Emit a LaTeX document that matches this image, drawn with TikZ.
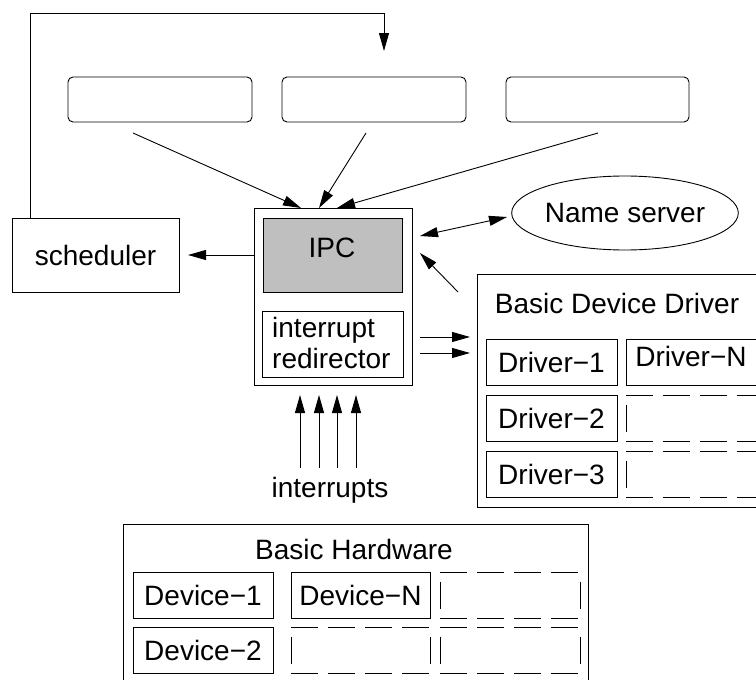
\documentclass[tikz,border=0pt]{standalone}
\usepackage{fontspec}
\setmainfont{Liberation Sans}
\usetikzlibrary{arrows.meta,shapes.geometric}

\tikzset{
  lbl/.style={font=\fontsize{28}{31}\selectfont, inner sep=0pt},
  sized/.style args={#1x#2}{minimum width=#1pt, minimum height=#2pt},
  box/.style={draw, line width=0.9pt, inner sep=0pt, outer sep=0pt, lbl},
  rbox/.style={box, rounded corners=5pt},
  ghost/.style={inner sep=0pt, outer sep=0pt},
  arr/.style={line width=0.9pt, -{Triangle[length=18pt,width=10pt]}},
  darr/.style={line width=0.9pt, {Triangle[length=18pt,width=10pt]}-{Triangle[length=18pt,width=10pt]}},
  hdash/.style={line width=0.9pt, dash pattern=on 27pt off 10pt},
  vdash/.style={line width=0.9pt, dash pattern=on 27pt off 10pt, dash phase=27.5pt},
}
% dashed outline drawn side by side, each side with its own dash pattern
\newcommand\dashedges[1]{%
  \draw[hdash] (#1.north west) -- (#1.north east);
  \draw[hdash] (#1.south west) -- (#1.south east);
  \draw[vdash] (#1.north west) -- (#1.south west);
  \draw[vdash] (#1.north east) -- (#1.south east);}

\begin{document}
\begin{tikzpicture}[x=1pt,y=-1pt]
\useasboundingbox (0,0) rectangle (756,680);

% user-level tasks
\node[rbox, sized=184x45] (top1) at (160,99.5) {};
\node[rbox, sized=184x45] (top2) at (374,99.5) {};
\node[rbox, sized=183x45] (top3) at (597.5,99.5) {};

% scheduler
\node[box, sized=167x74] (sched) at (95.5,255) {scheduler};

% kernel with IPC and interrupt redirector
\node[box, sized=158x177] (kern) at (333,296.5) {};
\node[box, fill=gray!50, sized=139x74] (ipc) at (332.5,255) {};
\node[lbl] (ipclbl) at (332,247.5) {IPC};
\node[box, sized=141x66] (irq) at (332.5,344) {};
\node[lbl, anchor=north west, align=left] (irqlbl) at (272,317) {interrupt\\redirector};

% name server
\node[box, ellipse, sized=224x74] (ns) at (625,213) {Name server};

% basic device driver
\node[box, sized=283x233] (bdd) at (618.5,390.5) {};
\node[lbl] (bddlbl) at (617,303) {Basic Device Driver};
\node[box, sized=131x46] (drv1) at (551.5,362) {Driver−1};
\node[box, sized=130x46] (drvN) at (691,362) {};
\node[lbl] (drvNlbl) at (691,356) {Driver−N};
\node[box, sized=131x46] (drv2) at (551.5,418) {Driver−2};
\node[ghost, sized=130x46] (drvd2) at (691,418) {};
\node[box, sized=131x46] (drv3) at (551.5,474) {Driver−3};
\node[ghost, sized=130x46] (drvd3) at (691,474) {};
\dashedges{drvd2}
\dashedges{drvd3}

% basic hardware
\node[box, sized=465x166] (hw) at (355.5,607) {};
\node[lbl] (hwlbl) at (354,549.5) {Basic Hardware};
\node[box, sized=140x46] (dev1) at (203,595) {Device−1};
\node[box, sized=139x46] (devN) at (360.5,595) {Device−N};
\node[ghost, sized=140x46] (devd1) at (510,595) {};
\node[box, sized=140x46] (dev2) at (203,650) {Device−2};
\node[ghost, sized=139x46] (devd2) at (360.5,650) {};
\node[ghost, sized=140x46] (devd3) at (510,650) {};
\dashedges{devd1}
\dashedges{devd2}
\dashedges{devd3}

% interrupts label
\node[lbl, anchor=base] (intlbl) at (330,497) {interrupts};

% connector end points
\coordinate (fbtop) at (384,13);
\coordinate (fbend) at (384,51);
\coordinate (t1s) at (133,133);
\coordinate (t2s) at (366,133);
\coordinate (t3s) at (598,133);
\coordinate (k1) at (301,208);
\coordinate (k2) at (319,208);
\coordinate (k3) at (337,208);
\coordinate (nsa) at (420,236);
\coordinate (nsb) at (507,217);
\coordinate (bdda) at (458,292);
\coordinate (bddb) at (420,253);
\coordinate (o1a) at (420,337);
\coordinate (o1b) at (470,337);
\coordinate (o2a) at (420,353);
\coordinate (o2b) at (470,353);

% feedback from the scheduler to the tasks
\draw[arr] ([xshift=18pt]sched.north west) |- (fbtop) -- (fbend);

% tasks to IPC
\draw[arr] (t1s) -- (k1);
\draw[arr] (t2s) -- (k2);
\draw[arr] (t3s) -- (k3);

% IPC to scheduler
\draw[arr] (kern.west |- ipc.center) -- ([xshift=9pt]sched.east);

% name server exchange
\draw[darr] (nsa) -- (nsb);

% driver replies to IPC
\draw[arr] (bdda) -- (bddb);

% redirected interrupts to drivers
\draw[arr] (o1a) -- (o1b);
\draw[arr] (o2a) -- (o2b);

% hardware interrupts
\foreach \x [count=\i] in {300,319,337,356} {
  \coordinate (ia\i) at (\x,468);
  \coordinate (ib\i) at (\x,395);
  \draw[arr] (ia\i) -- (ib\i);
}
\end{tikzpicture}
\end{document}
